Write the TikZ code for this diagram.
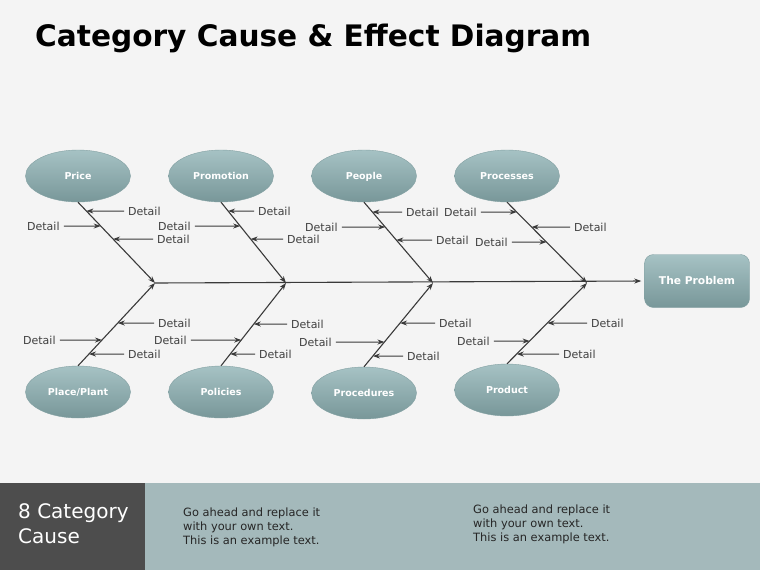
\documentclass[tikz,border=0pt]{standalone}
\usepackage{fontspec}
\setmainfont{DejaVu Sans}
\usetikzlibrary{arrows.meta,positioning,shapes.geometric}
\definecolor{bggray}{RGB}{244,244,244}
\definecolor{bonegray}{RGB}{58,58,58}
\definecolor{txtgray}{RGB}{64,64,64}
\definecolor{tealtop}{RGB}{166,194,196}
\definecolor{tealbot}{RGB}{120,151,153}
\definecolor{tealedge}{RGB}{130,160,162}
\definecolor{footteal}{RGB}{164,185,187}
\definecolor{footdark}{RGB}{77,77,77}
\newcommand{\detail}[5]{%
  \node[det] (#1) at (#2,#3) {Detail};
  \draw[tick] (#1.#4) -- (intersection of #1.west--#1.east and #5);
}

\begin{document}
\begin{tikzpicture}[x=1pt, y=-1pt,
  cat/.style={ellipse, minimum width=105pt, minimum height=52pt, top color=tealtop, bottom color=tealbot, draw=tealedge, text=white, text height=1.6ex, text depth=.4ex, font=\fontsize{9.5}{12}\selectfont\bfseries},
  det/.style={anchor=west, inner sep=0pt, text=txtgray, font=\fontsize{11}{13}\selectfont},
  bone/.style={draw=bonegray, line width=1.1pt, -{Stealth[length=7pt, width=5pt]}},
  tick/.style={draw=bonegray, line width=1pt, shorten <=4pt, -{Stealth[length=7pt, width=5pt]}},
  note/.style={anchor=north west, align=left, inner sep=0pt, text=black!85, font=\fontsize{11.4}{14}\selectfont}]
  \fill[bggray] (0,0) rectangle (760,570);
  \node[anchor=west, inner sep=0pt, font=\fontsize{29.6}{34}\selectfont\bfseries] (title) at (35,38) {Category Cause \& Effect Diagram};

  \coordinate (j1) at (155,283);
  \coordinate (j2) at (286,283);
  \coordinate (j3) at (433,283);
  \coordinate (j4) at (587,283);

  \node[cat] (price) at (78,176) {Price};
  \node[cat] (promotion) at (221,176) {Promotion};
  \node[cat] (people) at (364,176) {People};
  \node[cat] (processes) at (507,176) {Processes};
  \node[cat] (place) at (78,392) {Place/Plant};
  \node[cat] (policies) at (221,392) {Policies};
  \node[cat] (procedures) at (364,393) {Procedures};
  \node[cat] (product) at (507,390) {Product};

  \node[draw=tealedge, rounded corners=9pt, top color=tealtop, bottom color=tealbot, minimum width=105pt, minimum height=53pt, text=white, font=\fontsize{10.7}{13}\selectfont\bfseries] (problem) at (697,281) {The Problem};

  \draw[bone, shorten >=3pt] (j1) -- (problem.west);
  \draw[bone] (price.south) -- (j1);
  \draw[bone] (promotion.south) -- (j2);
  \draw[bone] (people.south) -- (j3);
  \draw[bone] (processes.south) -- (j4);
  \draw[bone] (place.north) -- (j1);
  \draw[bone] (policies.north) -- (j2);
  \draw[bone] (procedures.north) -- (j3);
  \draw[bone] (product.north) -- (j4);

  \detail{pr1}{128}{211}{west}{price.south--j1}
  \detail{pr2}{27}{226}{east}{price.south--j1}
  \detail{pr3}{157}{239}{west}{price.south--j1}
  \detail{pm1}{258}{211}{west}{promotion.south--j2}
  \detail{pm2}{158}{226}{east}{promotion.south--j2}
  \detail{pm3}{287}{239}{west}{promotion.south--j2}
  \detail{pe1}{406}{212}{west}{people.south--j3}
  \detail{pe2}{305}{227}{east}{people.south--j3}
  \detail{pe3}{436}{240}{west}{people.south--j3}
  \detail{ps1}{444}{212}{east}{processes.south--j4}
  \detail{ps2}{574}{227}{west}{processes.south--j4}
  \detail{ps3}{475}{242}{east}{processes.south--j4}
  \detail{pl1}{158}{323}{west}{place.north--j1}
  \detail{pl2}{23}{340}{east}{place.north--j1}
  \detail{pl3}{128}{354}{west}{place.north--j1}
  \detail{po1}{291}{324}{west}{policies.north--j2}
  \detail{po2}{154}{340}{east}{policies.north--j2}
  \detail{po3}{259}{354}{west}{policies.north--j2}
  \detail{pc1}{439}{323}{west}{procedures.north--j3}
  \detail{pc2}{299}{342}{east}{procedures.north--j3}
  \detail{pc3}{407}{356}{west}{procedures.north--j3}
  \detail{pd1}{591}{323}{west}{product.north--j4}
  \detail{pd2}{457}{341}{east}{product.north--j4}
  \detail{pd3}{563}{354}{west}{product.north--j4}

  \fill[footteal] (0,483) rectangle (760,570);
  \fill[footdark] (0,483) rectangle (145,570);
  \node[anchor=north west, align=left, inner sep=0pt, text=white, font=\fontsize{20}{25}\selectfont] (cause) at (18,503) {8 Category\\Cause};
  \node[note] (note1) at (183,508) {Go ahead and replace it\\with your own text.\\This is an example text.};
  \node[note] (note2) at (473,505) {Go ahead and replace it\\with your own text.\\This is an example text.};
\end{tikzpicture}
\end{document}
